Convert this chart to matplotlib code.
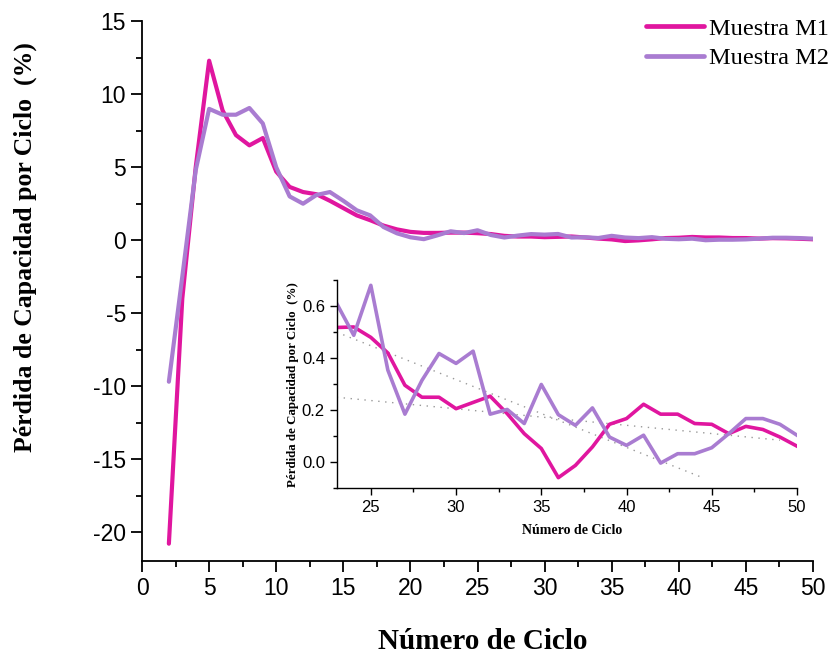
import matplotlib
matplotlib.use('Agg')
import matplotlib.pyplot as plt
from matplotlib.ticker import MultipleLocator, FormatStrFormatter

plt.rcParams['axes.unicode_minus'] = False

# cycle numbers and capacity loss per cycle (%)
cycles = list(range(2, 51))
m1_loss = [-20.8, -4.0, 5.0, 12.3, 8.9, 7.2, 6.5, 7.0, 4.7, 3.65, 3.3, 3.15, 2.7, 2.2,
           1.7, 1.37, 1.0, 0.74, 0.57, 0.5, 0.5,
           0.518, 0.52, 0.48, 0.42, 0.296, 0.25, 0.25, 0.206, 0.23, 0.254, 0.187, 0.11, 0.053,
           -0.059, -0.012, 0.059, 0.146, 0.168, 0.223, 0.185, 0.185, 0.149, 0.146, 0.11,
           0.138, 0.126, 0.097, 0.062]
m2_loss = [-9.7, -2.5, 4.8, 9.0, 8.6, 8.6, 9.06, 8.0, 5.0, 3.0, 2.5, 3.1, 3.3, 2.7,
           2.05, 1.7, 0.9, 0.47, 0.2, 0.07, 0.33,
           0.61, 0.488, 0.68, 0.354, 0.185, 0.315, 0.418, 0.38, 0.427, 0.185, 0.203, 0.149, 0.299,
           0.183, 0.142, 0.209, 0.097, 0.065, 0.104, -0.003, 0.033, 0.033, 0.056, 0.11,
           0.168, 0.168, 0.146, 0.104]
labels = ['Muestra M1', 'Muestra M2']

# faint trend lines drawn in the inset (end points)
trend1_x = [23, 49]
trend1_y = [0.25, 0.085]
trend2_x = [23, 44.5]
trend2_y = [0.5, -0.06]

INSET_START = 23

M1_COLOR = '#E0169F'
M2_COLOR = '#A97CD1'
TICK_FONT = 'Liberation Sans'
LABEL_FONT = 'Liberation Serif'


def style_axes(ax, size, major_len, minor_len, width):
    for side in ('top', 'right'):
        ax.spines[side].set_visible(False)
    for side in ('left', 'bottom'):
        ax.spines[side].set_linewidth(width)
    ax.tick_params(which='major', direction='out', length=major_len, width=width,
                   labelsize=size, color='black')
    ax.tick_params(which='minor', direction='out', length=minor_len, width=width,
                   color='black')
    for lab in ax.get_xticklabels() + ax.get_yticklabels():
        lab.set_fontfamily(TICK_FONT)


fig = plt.figure(figsize=(8.37, 6.56), dpi=100)

ax = fig.add_axes([0.1697, 0.1445, 0.8016, 0.823])
ax.plot(cycles, m1_loss, color=M1_COLOR, lw=3.0, solid_joinstyle='round',
        solid_capstyle='round', label=labels[0])
ax.plot(cycles, m2_loss, color=M2_COLOR, lw=3.0, solid_joinstyle='round',
        solid_capstyle='round', label=labels[1])
ax.set_xlim(0, 50)
ax.set_ylim(-22, 15)
ax.xaxis.set_major_locator(MultipleLocator(5))
ax.xaxis.set_minor_locator(MultipleLocator(2.5))
ax.yaxis.set_major_locator(MultipleLocator(5))
ax.yaxis.set_minor_locator(MultipleLocator(2.5))
style_axes(ax, 16.5, 8, 4, 1.3)

fig.text(0.03, 0.623, 'Pérdida de Capacidad por Ciclo  (%)', rotation=90,
         ha='center', va='center', fontsize=18.5, fontweight='bold', family=LABEL_FONT)
fig.text(0.577, 0.022, 'Número de Ciclo', ha='center', va='center',
         fontsize=21, fontweight='bold', family=LABEL_FONT)

leg = fig.legend(loc='upper right', bbox_to_anchor=(1.008, 0.995), frameon=False,
                 prop={'family': LABEL_FONT, 'size': 17.5}, handlelength=2.4,
                 handletextpad=0.2, labelspacing=0.3, borderpad=0.1)
for line in leg.get_lines():
    line.set_linewidth(3.4)

# inset zoom on the later cycles
ins = fig.add_axes([0.4023, 0.2556, 0.5499, 0.3174])
i0 = cycles.index(INSET_START)
ins.plot(trend1_x, trend1_y, color='#999999', lw=1.0, ls=(0, (1, 4)))
ins.plot(trend2_x, trend2_y, color='#999999', lw=1.0, ls=(0, (1, 4)))
ins.plot(cycles[i0:], m1_loss[i0:], color=M1_COLOR, lw=2.6, solid_joinstyle='round')
ins.plot(cycles[i0:], m2_loss[i0:], color=M2_COLOR, lw=2.6, solid_joinstyle='round')
ins.set_xlim(23, 50)
ins.set_ylim(-0.1, 0.7)
ins.xaxis.set_major_locator(MultipleLocator(5))
ins.xaxis.set_minor_locator(MultipleLocator(2.5))
ins.yaxis.set_major_locator(MultipleLocator(0.2))
ins.yaxis.set_minor_locator(MultipleLocator(0.1))
ins.yaxis.set_major_formatter(FormatStrFormatter('%.1f'))
ins.patch.set_alpha(0)
style_axes(ins, 12, 5, 3, 1.0)

fig.text(0.3495, 0.414, 'Pérdida de Capacidad por Ciclo  (%)', rotation=90,
         ha='center', va='center', fontsize=9.3, fontweight='bold', family=LABEL_FONT)
fig.text(0.684, 0.192, 'Número de Ciclo', ha='center', va='center',
         fontsize=10, fontweight='bold', family=LABEL_FONT)

fig.savefig('out.png', dpi=100)
